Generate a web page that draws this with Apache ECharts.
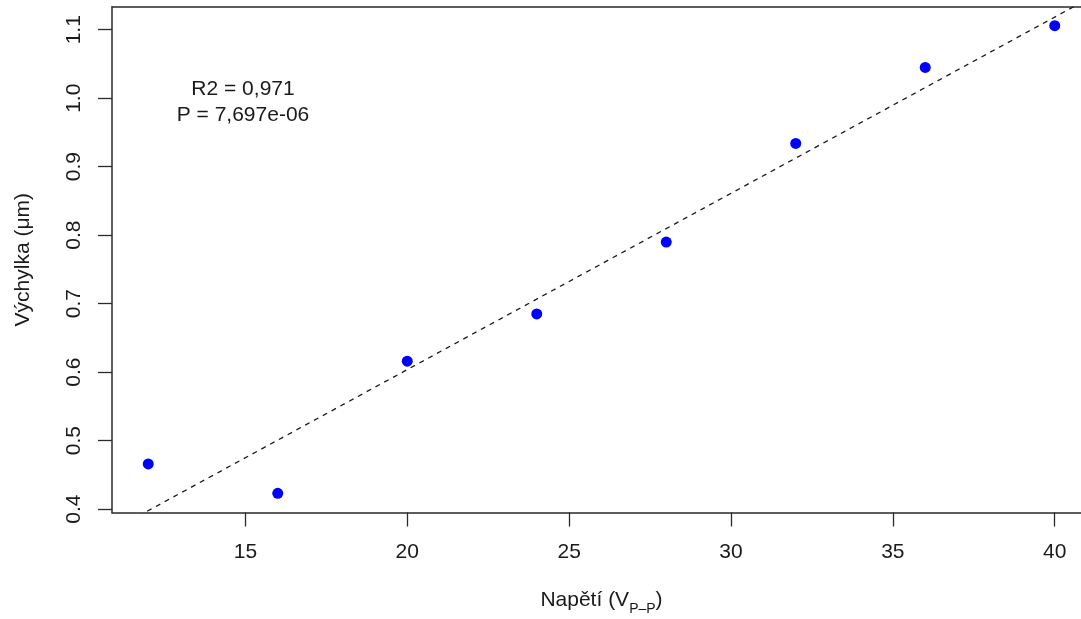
<!DOCTYPE html>
<html>
<head>
<meta charset="utf-8">
<script src="https://cdn.jsdelivr.net/npm/echarts@6/dist/echarts.min.js"></script>
<style>
html,body{margin:0;padding:0;background:#fff;}
#chart{width:1081px;height:619px;}
</style>
</head>
<body>
<div id="chart"></div>
<script>
// ---- data ----
const voltage = [12, 16, 20, 24, 28, 32, 36, 40];
const deflection = [0.466, 0.423, 0.616, 0.685, 0.790, 0.934, 1.045, 1.106];
const xTickValues = [15, 20, 25, 30, 35, 40];
const yTickValues = [0.4, 0.5, 0.6, 0.7, 0.8, 0.9, 1.0, 1.1];
const annotationLines = ['R2 = 0,971', 'P = 7,697e-06'];
const xAxisTitle = 'Napětí (V{sub|P–P})';
const yAxisTitle = 'Výchylka (μm)';

// axis ranges (R style 4% padding; plot box runs past the right edge of the picture)
const xMin = 10.88, xMax = 41.12;
const yMin = 0.395, yMax = 1.1332;

// least-squares fit of the data (abline of lm)
const n = voltage.length;
const mx = voltage.reduce((a, b) => a + b, 0) / n;
const my = deflection.reduce((a, b) => a + b, 0) / n;
let sxy = 0, sxx = 0;
for (let i = 0; i < n; i++) { sxy += (voltage[i] - mx) * (deflection[i] - my); sxx += (voltage[i] - mx) ** 2; }
const slope = sxy / sxx, intercept = my - slope * mx;
const fitLine = [[xMin, intercept + slope * xMin], [xMax, intercept + slope * xMax]];

const FONT = 'Liberation Sans, Arial, sans-serif';
const TXT = '#1a1a1a';
const LINE = '#2a2a2a';

const chart = echarts.init(document.getElementById('chart'), null, {renderer: 'canvas'});
chart.setOption({
  animation: false,
  backgroundColor: '#ffffff',
  grid: {left: 112, top: 7, width: 979, height: 505.5, show: false, containLabel: false, outerBoundsMode: 'none'},
  xAxis: [{
    type: 'value', min: xMin, max: xMax, position: 'bottom',
    axisLine: {show: true, onZero: false, lineStyle: {color: LINE, width: 1.5}},
    splitLine: {show: false},
    axisTick: {show: true, length: 14, inside: false, customValues: xTickValues, lineStyle: {color: LINE, width: 1.3}},
    axisLabel: {show: true, customValues: xTickValues, margin: 29, fontSize: 21, fontFamily: FONT, color: TXT,
      formatter: v => String(Math.round(v))},
    name: xAxisTitle, nameLocation: 'middle', nameGap: 77,
    nameTextStyle: {fontSize: 21, fontFamily: FONT, color: TXT,
      rich: {sub: {fontSize: 14, fontFamily: FONT, color: TXT, verticalAlign: 'bottom', padding: [0, 0, -6, 0]}}}
  }, {
    type: 'value', min: xMin, max: xMax, position: 'top',
    axisLine: {show: true, onZero: false, lineStyle: {color: LINE, width: 1.5}},
    splitLine: {show: false}, axisTick: {show: false}, axisLabel: {show: false}
  }],
  yAxis: {
    type: 'value', min: yMin, max: yMax,
    axisLine: {show: true, onZero: false, lineStyle: {color: LINE, width: 1.5}},
    splitLine: {show: false},
    axisTick: {show: true, length: 14, inside: false, customValues: yTickValues, lineStyle: {color: LINE, width: 1.3}},
    axisLabel: {show: true, customValues: yTickValues, rotate: 90, margin: 27, fontSize: 21, fontFamily: FONT, color: TXT,
      formatter: v => v.toFixed(1)},
    name: yAxisTitle, nameLocation: 'middle', nameGap: 78, nameRotate: 90,
    nameTextStyle: {fontSize: 21, fontFamily: FONT, color: TXT}
  },
  graphic: annotationLines.map((t, i) => ({
    type: 'text',
    x: 243, y: 89 + i * 26,
    style: {text: t, fontSize: 21, fontFamily: FONT, fill: TXT, textAlign: 'center', textVerticalAlign: 'middle'}
  })),
  series: [
    {
      type: 'line', xAxisIndex: 0, data: fitLine, symbol: 'none', clip: true, silent: true,
      lineStyle: {color: '#1a1a1a', width: 1.3, type: [5, 5]}
    },
    {
      type: 'scatter', xAxisIndex: 0, data: voltage.map((x, i) => [x, deflection[i]]),
      symbol: 'circle', symbolSize: 11, itemStyle: {color: '#0000ff', opacity: 1}
    }
  ]
});
</script>
</body>
</html>
